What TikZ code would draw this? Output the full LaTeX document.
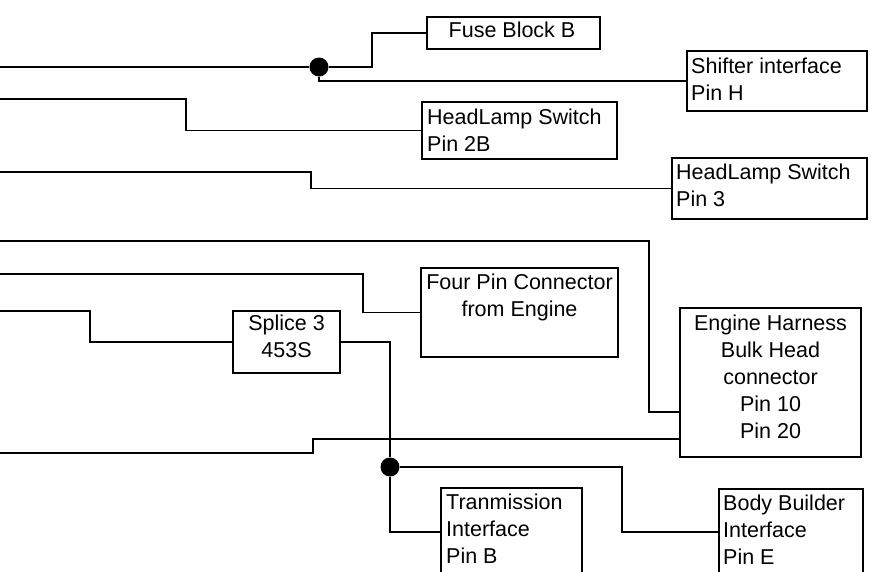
\documentclass[tikz,border=0pt]{standalone}
\usepackage{fontspec}
\setmainfont{Liberation Sans}

\begin{document}
\begin{tikzpicture}[x=1pt,y=-1pt,
    wire/.style={line width=1.8pt},
    box/.style={draw,line width=1.8pt,inner sep=0pt,outer sep=0pt},
    lbl/.style={inner sep=0pt,font=\fontsize{21.5}{26.8}\selectfont},
    splicedot/.style={circle,fill=black,inner sep=0pt,minimum size=19pt}]
  \useasboundingbox (0,0) rectangle (882,571);
  \clip (0,0) rectangle (882,571);
  \draw
    (513.5,32.9) node[box,minimum width=173,minimum height=32.3] (fuse){}
    (777,81) node[box,minimum width=180,minimum height=60] (shift){}
    (519.5,130.5) node[box,minimum width=195,minimum height=57] (hl2b){}
    (769.5,188.5) node[box,minimum width=195,minimum height=61] (hl3){}
    (519.5,312.5) node[box,minimum width=197,minimum height=89] (four){}
    (770.5,382.5) node[box,minimum width=181,minimum height=149] (eng){}
    (286.5,342) node[box,minimum width=107,minimum height=62] (splice){}
    (511.5,554) node[box,minimum width=141,minimum height=132] (trans){}
    (791,554.5) node[box,minimum width=144,minimum height=131] (body){}
    (319,67) node[splicedot] (d1){}
    (390,467) node[splicedot] (d2){};
  % base = baseline of the last line
  \draw
    (512,37.7) node[lbl,anchor=base] (fuse-t){Fuse Block B}
    (691,100) node[lbl,anchor=base west,align=left] (shift-t){Shifter interface\\Pin H}
    (427,151) node[lbl,anchor=base west,align=left] (hl2b-t){HeadLamp Switch\\Pin 2B}
    (676,206) node[lbl,anchor=base west,align=left] (hl3-t){HeadLamp Switch\\Pin 3}
    (519.5,316) node[lbl,anchor=base,align=center] (four-t){Four Pin Connector\\from Engine}
    (770.5,438) node[lbl,anchor=base,align=center] (eng-t){Engine Harness\\Bulk Head\\connector\\Pin 10\\Pin 20}
    (286.5,357) node[lbl,anchor=base,align=center] (splice-t){Splice 3\\453S}
    (446,563) node[lbl,anchor=base west,align=left] (trans-t){Tranmission\\Interface\\Pin B}
    (723,564) node[lbl,anchor=base west,align=left] (body-t){Body Builder\\Interface\\Pin E};
  \coordinate (w1) at (0,67);
  \coordinate (w2) at (0,99);
  \coordinate (w3) at (0,172);
  \coordinate (w4) at (0,241);
  \coordinate (w5) at (0,274);
  \coordinate (w6) at (0,311);
  \coordinate (w7) at (0,453);
  \begin{scope}[wire]
    \draw (w1) -- (d1) -- (372,67) |- (fuse.west);
    \draw (d1) |- (shift.west);
    \draw (w2) -- (186,99) |- (hl2b.west);
    \draw (w3) -- (311,172) |- (hl3.west);
    \draw[line width=1.4pt] (w4) -- (649,241) |- ([yshift=-29.5pt]eng.west);
    \draw (w5) -- (363,274) |- (four.west);
    \draw (w6) -- (90,311) |- (splice.west);
    \draw (splice.east) -| (d2) |- ([yshift=22pt]trans.west);
    \draw (d2) -- (622,467) |- ([yshift=22.5pt]body.west);
    \draw (w7) -- (313,453) |- ([yshift=-56.5pt]eng.west);
  \end{scope}
\end{tikzpicture}
\end{document}
